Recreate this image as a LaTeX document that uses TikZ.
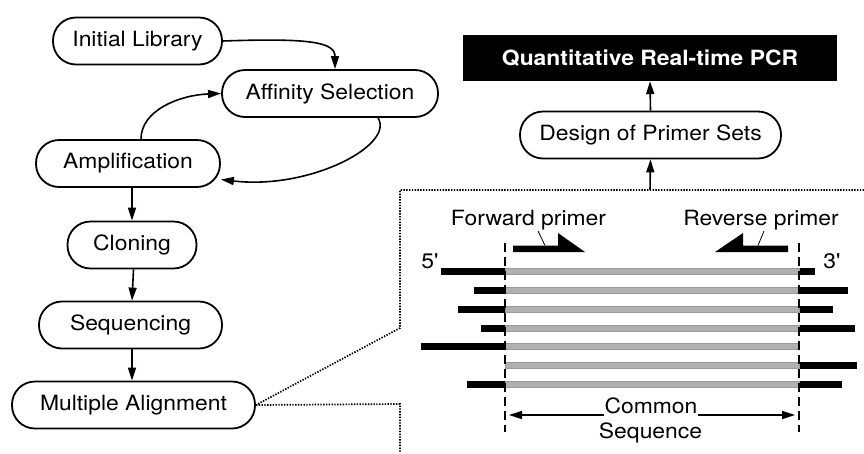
\documentclass[tikz,border=0pt]{standalone}
\usepackage{fontspec}
\setmainfont{TeX Gyre Heros}
\usetikzlibrary{arrows.meta}
\newcommand\wt[1]{\scalebox{1.09}[1]{#1}}
\begin{document}
\begin{tikzpicture}[x=1pt,y=-1pt,
  font=\fontsize{21}{25}\selectfont,
  box/.style={draw, line width=1.8pt, rounded corners=23pt, minimum height=47pt, inner sep=0pt},
  arr/.style={line width=1.6pt, -{Triangle[length=13pt,width=8pt]}},
  dotl/.style={line width=1.7pt, dash pattern=on 1.4pt off 1.4pt},
  dashl/.style={line width=1.6pt, dash pattern=on 9pt off 5pt},
  txt/.style={inner sep=0pt, anchor=base},
  greybar/.style={fill=gray!62, draw=gray!80, line width=0.4pt},
  blackbar/.style={fill=black},
  leader/.style={line width=0.8pt}]
\useasboundingbox (0,0) rectangle (864,453);

% left flow
\node[box, minimum width=169pt] (init) at (137.5,41) {\wt{Initial Library}};
\node[box, minimum width=216pt] (aff) at (330,93.5) {\wt{Affinity Selection}};
\node[box, minimum width=184pt] (amp) at (128,163.5) {\wt{Amplification}};
\node[box, minimum width=129pt] (clo) at (132,245) {\wt{Cloning}};
\node[box, minimum width=183pt] (seq) at (130.5,325) {\wt{Sequencing}};
\node[box, minimum width=243pt] (mal) at (133.5,405) {\wt{Multiple Alignment}};

\draw[arr] (init.east) .. controls (310,38) and (335,42) .. ([xshift=5pt]aff.north);
\draw[arr] ([xshift=13pt]amp.north) .. controls (141,110) and (180,95) .. (aff.west);
\draw[arr] ([xshift=48pt]aff.south) .. controls (395,145) and (310,190) .. ([yshift=-16pt]amp.east);
\draw[arr] ([xshift=4pt]amp.south) -- (clo.north);
\draw[arr] ([xshift=1.5pt]clo.south) -- ([xshift=1.5pt]seq.north);
\draw[arr] ([xshift=1.5pt]seq.south) -- ([xshift=-1.5pt]mal.north);

% right flow
\node[fill=black, text=white, font=\fontsize{21}{25}\selectfont\bfseries,
      minimum width=374pt, minimum height=46pt, inner sep=0pt] (pcr) at (650,58) {\wt{Quantitative Real-time PCR}};
\node[box, minimum width=261pt] (dps) at (650.5,135) {\wt{Design of Primer Sets}};
\coordinate (boxtop) at (650,190);
\draw[arr] (dps.north) -- (pcr.south);
\draw[arr] (boxtop) -- (dps.south);

% dotted callout
\draw[dotl] (864,190) -- (400,190) -- (400,328) -- (mal.east);
\draw[dotl] (mal.east) -- (400,404) -- (400,453);

% sequences
\foreach \y/\l/\r in {271/441/815, 290/474/848, 309/458/833, 328/481/855, 346/421/799, 365/505/857, 384/467/842}{
  \fill[blackbar] (\l,\y-3.5) rectangle (505,\y+3.5);
  \fill[blackbar] (799,\y-3.5) rectangle (\r,\y+3.5);
  \draw[greybar] (505,\y-3.2) rectangle (799,\y+3.2);
}
\draw[dashl] (505,243) -- (505,432);
\draw[dashl] (799,243) -- (799,432);

\node[txt] (p5) at (430,268) {\wt{5\textquotesingle}};
\node[txt] (p3) at (832,268) {\wt{3\textquotesingle}};

% primers
\node[txt] (fwd) at (528.5,225) {\wt{Forward primer}};
\node[txt] (rev) at (761,225) {\wt{Reverse primer}};
\fill (513,245.5) -- (558,245.5) -- (558,233) -- (585,252) -- (513,252) -- cycle;
\fill (788,245.5) -- (743,245.5) -- (743,233) -- (715,252) -- (788,252) -- cycle;
\coordinate (fl) at (545,245.5);
\coordinate (rl) at (758,245.5);
\draw[leader] (538,231) -- (fl);
\draw[leader] (764,231) -- (rl);

% common sequence
\node[txt] (com) at (651,413) {\wt{Common}};
\node[txt] (sqn) at (650.5,438.5) {\wt{Sequence}};
\coordinate (cl) at (509,415);
\coordinate (cr) at (795,415);
\draw[arr] (com.west |- cl) -- (cl);
\draw[arr] (com.east |- cr) -- (cr);
\end{tikzpicture}
\end{document}
